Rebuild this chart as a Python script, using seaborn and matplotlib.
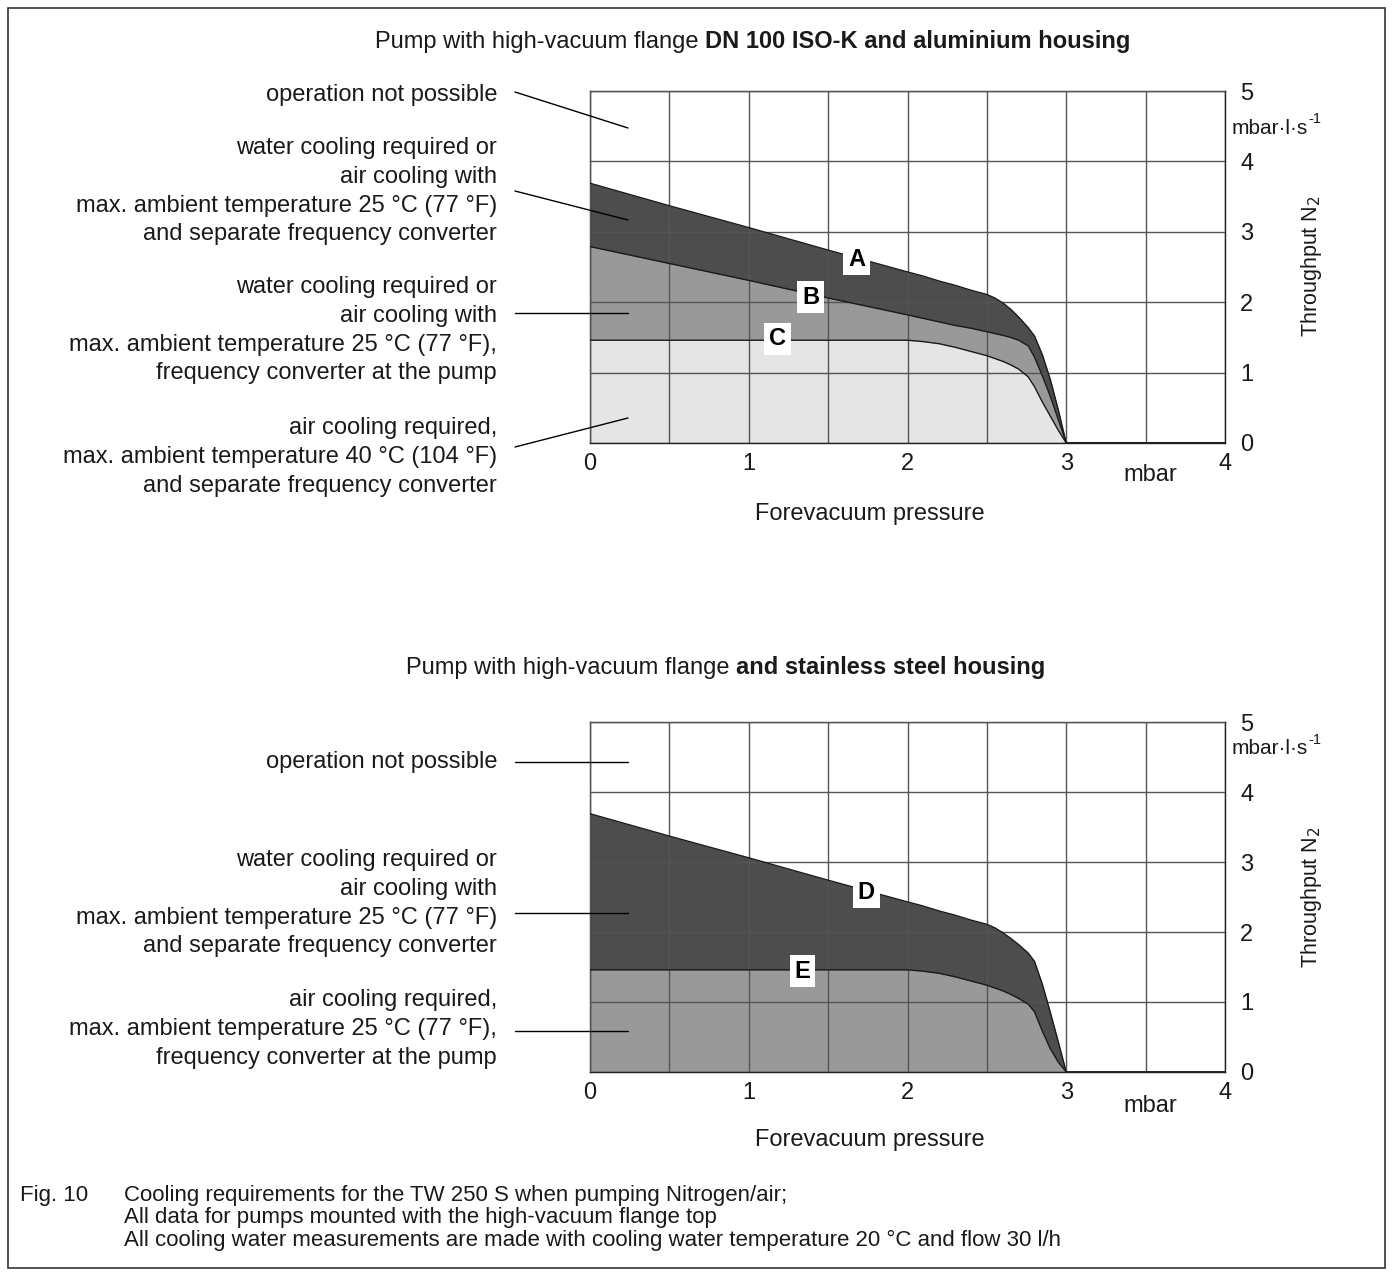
import matplotlib
matplotlib.use("Agg")
import matplotlib.pyplot as plt
import seaborn as sns
from matplotlib.patches import Rectangle
from matplotlib.ticker import MultipleLocator

# ---------------- data ----------------
pressure = [0, 0.5, 1, 1.5, 2, 2.1, 2.2, 2.3, 2.4, 2.5, 2.55, 2.6, 2.65, 2.7, 2.76,
            2.8, 2.85, 2.9, 2.95, 3.0, 3.5, 4.0]
curve_A = [3.69, 3.37, 3.06, 2.74, 2.43, 2.37, 2.30, 2.24, 2.17, 2.11, 2.06, 1.99, 1.90,
           1.79, 1.64, 1.52, 1.25, 0.90, 0.47, 0, 0, 0]
curve_B = [2.79, 2.55, 2.31, 2.06, 1.82, 1.77, 1.72, 1.67, 1.63, 1.58, 1.555, 1.53, 1.50,
           1.46, 1.38, 1.22, 0.95, 0.66, 0.33, 0, 0, 0]
curve_C = [1.46, 1.46, 1.46, 1.46, 1.46, 1.44, 1.41, 1.36, 1.30, 1.24, 1.20, 1.16, 1.11,
           1.05, 0.94, 0.80, 0.58, 0.38, 0.18, 0, 0, 0]
curve_D = [3.69, 3.37, 3.06, 2.74, 2.43, 2.37, 2.30, 2.24, 2.17, 2.11, 2.06, 1.99, 1.91,
           1.82, 1.70, 1.58, 1.25, 0.85, 0.43, 0, 0, 0]
curve_E = [1.46, 1.46, 1.46, 1.46, 1.46, 1.44, 1.41, 1.36, 1.30, 1.24, 1.20, 1.16, 1.11,
           1.05, 0.97, 0.86, 0.58, 0.33, 0.14, 0, 0, 0]

x_ticks = [0, 1, 2, 3, 4]
y_ticks = [0, 1, 2, 3, 4, 5]

title_top = ("Pump with high-vacuum flange ", "DN 100 ISO-K and aluminium housing")
title_bottom = ("Pump with high-vacuum flange ", "and stainless steel housing")

labels_top = [
    ["operation not possible"],
    ["water cooling required or", "air cooling with",
     "max. ambient temperature 25 °C (77 °F)", "and separate frequency converter"],
    ["water cooling required or", "air cooling with",
     "max. ambient temperature 25 °C (77 °F),", "frequency converter at the pump"],
    ["air cooling required,", "max. ambient temperature 40 °C (104 °F)",
     "and separate frequency converter"],
]
labels_bottom = [
    ["operation not possible"],
    ["water cooling required or", "air cooling with",
     "max. ambient temperature 25 °C (77 °F)", "and separate frequency converter"],
    ["air cooling required,", "max. ambient temperature 25 °C (77 °F),",
     "frequency converter at the pump"],
]
caption_head = "Fig. 10"
caption_lines = [
    "Cooling requirements for the TW 250 S when pumping Nitrogen/air;",
    "All data for pumps mounted with the high-vacuum flange top",
    "All cooling water measurements are made with cooling water temperature 20 °C and flow 30 l/h",
]

# ---------------- style ----------------
sns.set_style("white")
plt.rcParams["font.family"] = ["Liberation Sans", "DejaVu Sans"]
FS = 17
TXT = "#1a1a1a"

W, H = 1393, 1276
fig = plt.figure(figsize=(W / 100, H / 100), dpi=100)
fig.patch.set_facecolor("white")


def P(x, y):
    return (x / W, 1 - y / H)


fig.add_artist(Rectangle(P(8, 1268), (1385 - 8) / W, (1268 - 8) / H,
                         transform=fig.transFigure, fill=False, lw=1.2, ec="#333333"))

DARK, MID, LIGHT = "#4d4d4d", "#999999", "#e5e5e5"


def setup_axes(ax):
    ax.set_xlim(0, 4)
    ax.set_ylim(0, 5)
    ax.xaxis.set_minor_locator(MultipleLocator(0.5))
    ax.set_xticks(x_ticks)
    ax.set_yticks(y_ticks)
    ax.yaxis.tick_right()
    ax.tick_params(axis="y", length=0, pad=11, labelsize=FS, labelcolor=TXT)
    ax.tick_params(axis="x", which="both", length=3, width=0.8, color="#444444",
                   direction="out", pad=4, labelsize=FS, labelcolor=TXT)
    ax.grid(True, which="both", axis="x", color="#555555", lw=1.0, zorder=2)
    ax.grid(True, which="major", axis="y", color="#555555", lw=1.0, zorder=2)
    ax.set_axisbelow(False)
    for s in ax.spines.values():
        s.set_color("#222222")
        s.set_linewidth(1.0)
        s.set_visible(True)
    ax.set_xlabel("")
    ax.set_ylabel("")


def band(ax, yvals, color):
    ax.fill_between(pressure, 0, yvals, color=color, lw=0, zorder=1)
    sns.lineplot(x=pressure, y=yvals, ax=ax, color="#1a1a1a", lw=1.0, zorder=3,
                 estimator=None, sort=False)


def letter(ax, x, y, s):
    ax.text(x, y, s, ha="center", va="center", fontsize=FS, fontweight="bold",
            color="black", zorder=5,
            bbox=dict(boxstyle="square,pad=0.2", fc="white", ec="none"))


# ---------------- top axes ----------------
ax1 = fig.add_axes([590 / W, 1 - 443 / H, 635 / W, 352 / H])
band(ax1, curve_A, DARK)
band(ax1, curve_B, MID)
band(ax1, curve_C, LIGHT)
setup_axes(ax1)
letter(ax1, 1.68, 2.61, "A")
letter(ax1, 1.39, 2.07, "B")
letter(ax1, 1.18, 1.48, "C")

# ---------------- bottom axes ----------------
ax2 = fig.add_axes([590 / W, 1 - 1072 / H, 635 / W, 350 / H])
band(ax2, curve_D, DARK)
band(ax2, curve_E, MID)
setup_axes(ax2)
letter(ax2, 1.74, 2.57, "D")
letter(ax2, 1.34, 1.44, "E")


# ---------------- titles ----------------
def mixed_title(x_left, y, parts):
    t = fig.text(*P(x_left, y), parts[0], ha="left", va="center", fontsize=FS, color=TXT)
    fig.add_artist(plt.Annotation(parts[1], xy=(1, 0), xycoords=t, ha="left", va="bottom",
                                  fontsize=FS, fontweight="bold", color=TXT,
                                  annotation_clip=False))


mixed_title(375, 42, title_top)
mixed_title(406, 668, title_bottom)

# ---------------- side labels ----------------
LINE_H = 28.8


def label_block(lines, y_first):
    for i, s in enumerate(lines):
        fig.text(*P(497, y_first + i * LINE_H), s, ha="right", va="center",
                 fontsize=FS, color=TXT)


def connector(x0, y0, x1, y1):
    fig.add_artist(plt.Line2D([x0 / W, x1 / W], [1 - y0 / H, 1 - y1 / H],
                              transform=fig.transFigure, color="black", lw=1.0, zorder=6))


label_block(labels_top[0], 95)
label_block(labels_top[1], 148)
label_block(labels_top[2], 287)
label_block(labels_top[3], 428)
connector(515, 92, 628, 128)
connector(515, 191, 628, 220)
connector(515, 313, 628, 313)
connector(515, 447, 628, 418)

label_block(labels_bottom[0], 762)
label_block(labels_bottom[1], 860)
label_block(labels_bottom[2], 1000)
connector(515, 762, 628, 762)
connector(515, 913, 628, 913)
connector(515, 1031, 628, 1031)

# ---------------- axis annotations ----------------
for yth, yunit, ymb, yfv in [(266, 128, 475, 514), (897, 749, 1106, 1140)]:
    u = fig.text(*P(1232, yunit), "mbar·l·s", ha="left", va="center",
                 fontsize=FS - 2, color=TXT)
    fig.add_artist(plt.Annotation("-1", xy=(1, 0.62), xycoords=u, ha="left", va="bottom",
                                  fontsize=FS - 6.5, color=TXT, annotation_clip=False))
    fig.text(*P(1312, yth), "Throughput N$_2$", ha="center", va="center",
             rotation=90, fontsize=15.5, color=TXT)
    fig.text(*P(1150, ymb), "mbar", ha="center", va="center", fontsize=FS, color=TXT)
    fig.text(*P(870, yfv), "Forevacuum pressure", ha="center", va="center",
             fontsize=FS, color=TXT)

# ---------------- caption ----------------
CAP_FS = 16
fig.text(*P(20, 1196), caption_head, ha="left", va="center", fontsize=CAP_FS, color=TXT)
for i, s in enumerate(caption_lines):
    fig.text(*P(124, 1196 + 22 * i), s, ha="left", va="center", fontsize=CAP_FS, color=TXT)

fig.savefig("out.png", dpi=100, facecolor="white")
